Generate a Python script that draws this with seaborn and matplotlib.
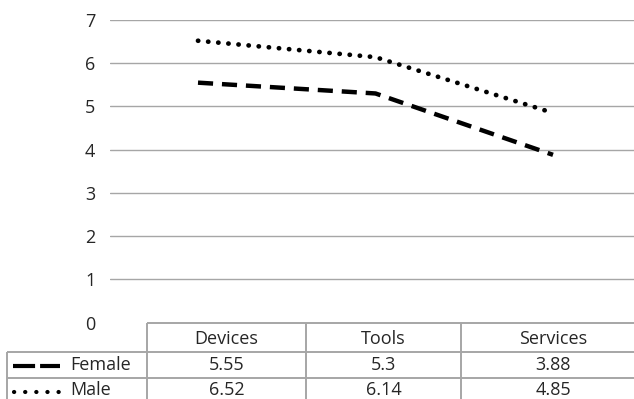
import matplotlib
matplotlib.use("Agg")
import matplotlib.pyplot as plt
import seaborn as sns
import pandas as pd

categories = ["Devices", "Tools", "Services"]
female = [5.55, 5.3, 3.88]
male = [6.52, 6.14, 4.85]
female_labels = ["5.55", "5.3", "3.88"]
male_labels = ["6.52", "6.14", "4.85"]
series_names = ["Female", "Male"]
yticks = [0, 1, 2, 3, 4, 5, 6, 7]

sns.set_theme(style="white")
plt.rcParams['font.family'] = ['Open Sans', 'DejaVu Sans']

W, H = 634, 399
fig = plt.figure(figsize=(W / 100, H / 100), dpi=100)
fig.patch.set_facecolor("white")

# table overlay axes in pixel coords
tab = fig.add_axes([0, 0, 1, 1], zorder=0)
tab.set_xlim(0, W)
tab.set_ylim(H, 0)
tab.axis("off")

GRID = "#a6a6a6"
FS = 13

# main plot axes
x0, y_top, y_bot = 110, 20, 322.5
ax = fig.add_axes([x0 / W, 1 - y_bot / H, 1 - x0 / W, (y_bot - y_top) / H], zorder=1)
ax.patch.set_alpha(0)

df = pd.DataFrame({"cat": list(range(len(categories))) * 2,
                   "val": female + male,
                   "series": [series_names[0]] * 3 + [series_names[1]] * 3})

LW_F, LW_M = 3.2, 3.4
sns.lineplot(data=df[df.series == "Female"], x="cat", y="val", ax=ax,
             color="black", lw=LW_F, dashes=False)
sns.lineplot(data=df[df.series == "Male"], x="cat", y="val", ax=ax,
             color="black", lw=LW_M, dashes=False)
l_f, l_m = ax.get_lines()[0], ax.get_lines()[1]
l_f.set_dashes((3.4, 2.0))
l_f.set_dash_capstyle("butt")
l_m.set_dashes((0.05, 2.1))
l_m.set_dash_capstyle("round")

step = 177.5
ax.set_xlim(-(198 - x0) / step, (W - 198) / step)
ax.set_ylim(0, 7)
ax.set_yticks(yticks)
ax.set_yticklabels([str(t) for t in yticks], fontsize=FS)
ax.set_xticks([])
ax.set_xlabel("")
ax.set_ylabel("")
for s in ax.spines.values():
    s.set_visible(False)
ax.tick_params(axis="y", length=0, pad=10.5)
for t in yticks[1:]:
    ax.axhline(t, color=GRID, lw=1.0, zorder=0)
if ax.get_legend():
    ax.get_legend().remove()

# data table
col_edges = [7, 147, 306, 461, 645]
row_edges = [323, 352, 378, 404]
tl = dict(color=GRID, lw=1.4, solid_capstyle="butt")
tab.plot([col_edges[1], W], [row_edges[0]] * 2, **tl)
tab.plot([col_edges[0], W], [row_edges[1]] * 2, **tl)
tab.plot([col_edges[0], W], [row_edges[2]] * 2, **tl)
tab.plot([col_edges[0], col_edges[0]], [row_edges[1], H], **tl)
for cx in col_edges[1:4]:
    tab.plot([cx, cx], [row_edges[0], H], **tl)

centers = [(col_edges[i] + col_edges[i + 1]) / 2 for i in range(1, 4)]
hy = 339
fy = 365
my = 390
for c, lab in zip(centers, categories):
    tab.text(c, hy, lab, ha="center", va="center", fontsize=FS)
for c, lab in zip(centers, female_labels):
    tab.text(c, fy, lab, ha="center", va="center", fontsize=FS)
for c, lab in zip(centers, male_labels):
    tab.text(c, my, lab, ha="center", va="center", fontsize=FS)

kf, = tab.plot([13, 60], [fy + 1, fy + 1], color="black", lw=3.0)
kf.set_dashes((5.3, 1.2))
kf.set_dash_capstyle("butt")
km, = tab.plot([14, 59], [my + 2, my + 2], color="black", lw=3.0)
km.set_dashes((0.05, 2.62))
km.set_dash_capstyle("round")
tab.text(70, fy, series_names[0], ha="left", va="center", fontsize=FS)
tab.text(70, my, series_names[1], ha="left", va="center", fontsize=FS)

fig.savefig("out.png", dpi=100, facecolor="white")
